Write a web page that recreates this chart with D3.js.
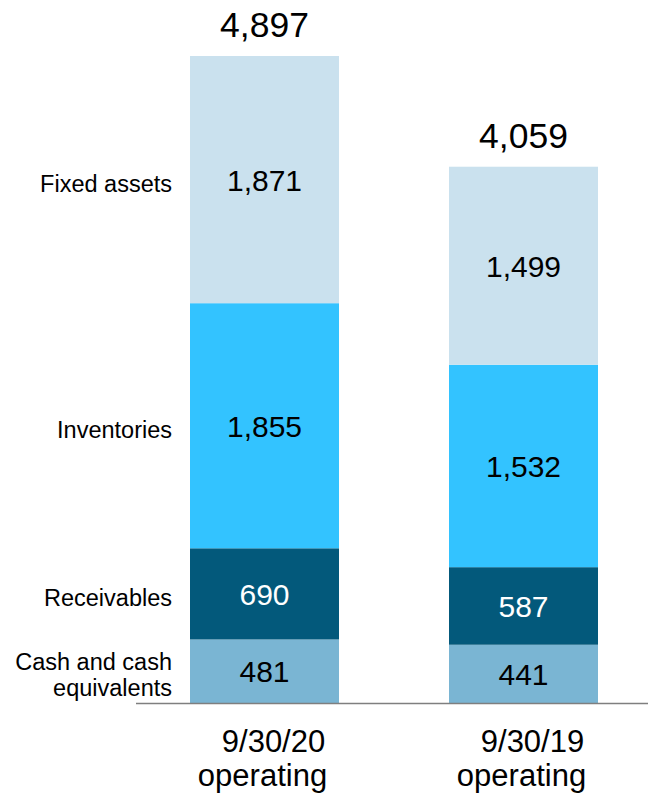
<!DOCTYPE html>
<html>
<head>
<meta charset="utf-8">
<script src="https://cdn.jsdelivr.net/npm/d3@7"></script>
<style>
  body { margin: 0; background: #fff; }
  svg { display: block; font-family: "Liberation Sans", Arial, sans-serif; }
</style>
</head>
<body>
<div id="chart"></div>
<script>
// chart data
var periods = ["9/30/20", "9/30/19"];
var periodSub = ["operating", "operating"];
var segments = ["Cash and cash equivalents", "Receivables", "Inventories", "Fixed assets"];
var segmentLabels = [["Cash and cash", "equivalents"], ["Receivables"], ["Inventories"], ["Fixed assets"]];
var cashVals = [481, 441];
var receivableVals = [690, 587];
var inventoryVals = [1855, 1532];
var fixedVals = [1871, 1499];
var totals = [4897, 4059];

var colors = ["#7ab5d3", "#03597b", "#33c3ff", "#cae1ee"];
var textColors = ["#000", "#fff", "#000", "#000"];

// setup the svg area
var svgWidth = 648;
var svgHeight = 796;
var baseY = 703;

var svg = d3.select("#chart")
    .append("svg")
    .attr("width", svgWidth)
    .attr("height", svgHeight);

// build rows for the stack
var rows = periods.map(function(p, i) {
  return {
    period: p,
    "Cash and cash equivalents": cashVals[i],
    "Receivables": receivableVals[i],
    "Inventories": inventoryVals[i],
    "Fixed assets": fixedVals[i],
    total: totals[i]
  };
});

var stacked = d3.stack().keys(segments)(rows);

// scales
var xScale = d3.scaleBand()
    .domain(periods)
    .range([190, 598])
    .paddingInner(0.4247)
    .paddingOuter(0);

var yScale = d3.scaleLinear()
    .domain([0, 4897])
    .range([baseY, 56]);

// ****************************************************
// stacked bars
var layers = svg.selectAll("g.layer")
    .data(stacked)
    .enter()
    .append("g")
    .attr("class", "layer")
    .attr("fill", function(d, i) { return colors[i]; });

layers.selectAll("rect")
    .data(function(d) { return d; })
    .enter()
    .append("rect")
    .attr("x", function(d) { return xScale(d.data.period); })
    .attr("y", function(d) { return yScale(d[1]); })
    .attr("width", xScale.bandwidth())
    .attr("height", function(d) { return yScale(d[0]) - yScale(d[1]); });

// value labels inside segments
layers.each(function(layer, li) {
  d3.select(this).selectAll("text")
      .data(layer)
      .enter()
      .append("text")
      .attr("x", function(d) { return xScale(d.data.period) + xScale.bandwidth() / 2; })
      .attr("y", function(d) { return (yScale(d[0]) + yScale(d[1])) / 2 + 11; })
      .attr("text-anchor", "middle")
      .attr("font-size", 30)
      .attr("fill", textColors[li])
      .text(function(d) { return d3.format(",")(d[1] - d[0]); });
});

// totals above bars
svg.selectAll("text.total")
    .data(rows)
    .enter()
    .append("text")
    .attr("class", "total")
    .attr("x", function(d) { return xScale(d.period) + xScale.bandwidth() / 2; })
    .attr("y", function(d) { return yScale(d.total) - 19; })
    .attr("text-anchor", "middle")
    .attr("font-size", 35.5)
    .text(function(d) { return d3.format(",")(d.total); });

// ****************************************************
// segment names on the left, next to the first bar
var firstBar = stacked.map(function(layer) { return layer[0]; });

svg.selectAll("text.segName")
    .data(firstBar)
    .enter()
    .append("text")
    .attr("class", "segName")
    .attr("text-anchor", "end")
    .attr("font-size", 23.5)
    .attr("fill", "#000")
    .each(function(d, i) {
      var lines = segmentLabels[i];
      var mid = (yScale(d[0]) + yScale(d[1])) / 2;
      var lh = 26.5;
      var first = mid - (lines.length - 1) * lh / 2 + 12;
      d3.select(this).selectAll("tspan")
          .data(lines)
          .enter()
          .append("tspan")
          .attr("x", 172)
          .attr("y", function(t, j) { return first + j * lh; })
          .text(function(t) { return t; });
    });

// ****************************************************
// baseline
svg.append("line")
    .attr("x1", 136)
    .attr("x2", 648)
    .attr("y1", baseY + 0.5)
    .attr("y2", baseY + 0.5)
    .attr("stroke", "#7f7f7f")
    .attr("stroke-width", 1.5);

// category labels
var cats = svg.selectAll("g.cat")
    .data(periods)
    .enter()
    .append("g")
    .attr("class", "cat")
    .attr("transform", function(d) {
      return "translate(" + (xScale(d) + xScale.bandwidth() / 2) + ",0)";
    });

cats.append("text")
    .attr("x", 9)
    .attr("y", 752)
    .attr("text-anchor", "middle")
    .attr("font-size", 31)
    .text(function(d) { return d; });

cats.append("text")
    .attr("x", -2)
    .attr("y", 786)
    .attr("text-anchor", "middle")
    .attr("font-size", 31)
    .text(function(d, i) { return periodSub[i]; });
</script>
</body>
</html>
